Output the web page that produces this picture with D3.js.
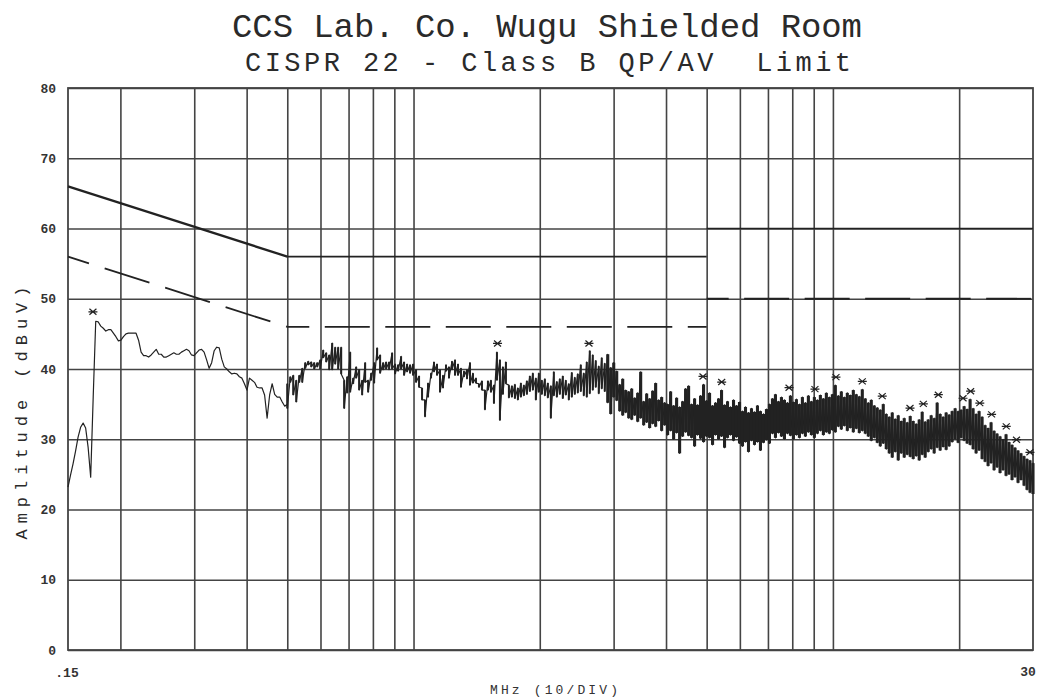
<!DOCTYPE html>
<html><head><meta charset="utf-8">
<script src="https://cdn.jsdelivr.net/npm/d3@7"></script>
<style>body{margin:0;background:#fff}svg{display:block}</style>
</head><body><svg id="c" width="1045" height="698"></svg>
<script>
// ---------- texts ----------
const titleText = "CCS Lab. Co. Wugu Shielded Room";
const subtitleText = "CISPR 22 - Class B QP/AV  Limit";
const yAxisLabel = "Amplitude (dBuV)";
const xAxisLabel = "MHz (10/DIV)";
const xStartLabel = ".15";
const xStopLabel = "30";

// ---------- axes ----------
const freqDomain = [0.15, 30];
const ampDomain = [0, 80];
const yTicks = [0, 10, 20, 30, 40, 50, 60, 70, 80];
const xGridFreqs = [0.2, 0.3, 0.4, 0.5, 0.6, 0.7, 0.8, 0.9, 1, 2, 3, 4, 5, 6, 7, 8, 9, 10, 20];

// ---------- limits (CISPR 22 class B) ----------
const qpSegFreq = [[0.15, 0.5], [0.5, 5], [5, 30]];
const qpSegAmp = [[66, 56], [56, 56], [60, 60]];
const avSegFreq = [[0.15, 0.5], [0.5, 5], [5, 30]];
const avSegAmp = [[56, 46], [46, 46], [50, 50]];

// ---------- sweep A : 0.15 - 0.5 MHz, 88 points (log spaced) ----------
const sweepAStart = 0.15, sweepAStop = 0.5;
const sweepAAmp = [23.2,24.9,26.5,28.3,30.3,31.7,32.3,31.6,28.8,24.6,
 36.0,46.8,46.7,46.1,45.8,45.4,45.6,45.6,45.1,44.6,
 44.0,44.1,44.6,45.0,45.1,45.1,45.1,45.1,44.1,42.4,
 41.9,41.9,41.7,42.0,42.4,42.8,42.1,42.1,41.7,41.7,
 41.9,42.1,42.3,42.1,42.1,42.4,42.6,42.8,42.6,42.0,
 41.9,42.3,42.7,42.8,42.4,41.3,40.1,40.9,42.6,43.1,
 43.0,41.4,40.3,40.0,39.6,39.3,39.4,39.3,38.9,38.7,
 37.9,37.0,38.7,38.4,38.1,37.4,37.3,37.3,36.3,33.0,
 36.3,37.9,36.4,36.0,36.0,35.3,34.7,35.0];

// ---------- sweep B : 0.5 - 30 MHz, 250 bins (log spaced), peak max / min ----------
const sweepBStart = 0.5, sweepBStop = 30;
const sweepBMax = [37.9,38.9,39.1,38.4,39.1,40.1,40.9,41.1,41.0,40.9,
 40.9,41.3,42.7,42.3,42.0,43.7,43.1,43.1,43.1,38.4,
 38.9,42.4,38.7,40.3,39.9,38.4,40.9,38.4,39.4,40.9,
 43.0,42.0,40.9,41.0,41.0,42.3,40.7,40.6,41.8,41.0,
 40.7,40.6,40.7,39.9,39.0,37.3,35.6,38.0,39.4,41.0,
 40.7,39.9,39.1,40.6,40.3,41.1,41.3,40.7,40.1,39.7,
 39.9,40.9,39.4,38.7,37.9,38.3,37.0,38.3,38.4,37.7,
 42.4,41.3,40.3,41.0,37.7,37.6,37.8,37.3,38.0,37.7,
 38.3,39.0,39.4,38.7,39.4,38.4,38.6,38.0,37.6,39.6,
 38.2,38.6,39.0,38.4,37.9,39.5,38.8,39.3,40.6,39.4,
 41.0,42.6,42.0,41.2,40.4,41.6,40.8,42.1,40.2,40.9,
 39.7,37.8,38.6,37.0,36.8,37.2,35.9,36.6,39.6,35.4,
 36.5,35.8,36.9,38.0,35.6,36.0,35.2,35.0,36.8,34.8,
 35.9,34.6,35.4,37.2,37.6,35.0,35.8,34.9,36.2,37.8,
 35.5,36.6,34.8,35.2,35.8,37.0,34.9,35.4,34.6,35.6,
 34.8,35.3,34.0,34.6,33.8,34.4,33.9,34.8,34.0,33.6,
 34.3,35.0,35.8,36.4,35.4,36.0,35.6,35.2,36.2,35.3,
 35.7,35.0,36.0,35.2,36.2,35.4,36.0,35.6,36.3,35.8,
 36.6,36.0,36.4,37.7,36.2,36.8,36.0,36.6,36.3,37.0,
 36.4,36.1,37.1,35.8,35.2,35.6,34.8,34.5,34.2,35.0,
 33.6,33.2,33.8,32.9,33.4,32.6,33.0,32.4,33.3,32.6,
 32.2,32.8,33.9,32.5,32.8,33.4,33.0,35.2,33.6,33.2,
 33.8,33.5,34.0,34.4,34.0,34.2,34.7,34.3,35.7,34.4,
 33.6,34.0,33.2,32.0,31.6,32.4,31.2,30.8,30.4,30.0,
 30.7,29.6,29.2,28.8,28.4,28.0,27.6,27.2,27.0,26.6];
const sweepBMin = [34.4,38.1,36.3,35.3,38.1,38.1,40.1,40.6,40.3,40.0,
 40.3,40.0,41.6,41.0,39.9,39.9,40.7,40.0,39.3,34.4,
 36.6,36.7,37.9,38.7,37.0,36.3,38.1,36.7,38.4,38.0,
 41.3,39.4,39.9,40.0,39.9,40.0,39.3,39.7,40.0,39.1,
 39.6,39.4,39.1,38.1,37.4,35.6,33.2,36.0,38.7,39.6,
 39.1,36.7,37.3,39.7,38.7,39.9,39.1,39.1,37.4,38.9,
 38.6,37.7,38.0,38.0,37.4,37.0,34.2,37.0,36.7,35.1,
 38.4,32.7,36.4,37.9,35.9,36.0,35.8,35.6,36.0,36.2,
 36.4,36.8,37.0,35.6,36.7,36.4,36.2,35.9,33.0,36.2,
 36.0,36.4,35.8,36.3,35.6,36.0,36.4,36.6,36.8,36.2,
 36.0,36.5,37.0,37.4,36.5,37.2,36.8,35.2,33.6,36.0,
 35.5,34.0,33.4,33.8,33.0,32.8,33.4,32.5,33.0,32.0,
 32.4,31.6,32.2,31.8,32.6,31.2,32.0,30.6,31.2,30.0,
 30.9,28.0,30.4,31.0,30.5,30.2,29.0,30.6,30.1,29.6,
 30.4,30.2,29.2,30.6,30.0,30.4,28.8,30.2,30.6,29.8,
 30.3,29.4,29.0,29.6,28.2,29.8,29.2,29.6,28.4,29.5,
 29.9,29.4,30.8,30.2,30.9,30.4,30.0,30.8,30.5,30.0,
 30.6,30.2,30.8,30.4,31.0,30.6,30.2,30.8,31.2,30.6,
 31.0,30.8,31.3,31.0,31.8,31.4,31.9,31.2,31.6,31.0,
 31.5,30.9,31.2,30.8,30.4,29.8,30.2,29.5,29.0,29.4,
 28.6,28.0,27.4,28.2,27.0,28.0,27.4,27.8,27.5,27.2,
 27.6,27.0,27.8,27.4,28.2,28.6,28.0,28.8,28.4,28.9,
 28.5,29.0,29.6,30.0,29.5,30.2,29.8,29.4,29.2,28.6,
 28.0,28.4,27.2,26.8,26.2,26.6,25.6,26.0,25.2,25.6,
 24.8,25.0,24.2,24.6,23.8,24.2,23.4,22.8,22.4,22.2];

// ---------- peak markers ----------
const markerFreq = [0.172,1.586,2.62,4.90,5.43,7.86,9.06,10.17,11.75,13.11,15.27,16.43,17.84,20.43,21.3,22.4,23.9,25.9,27.4,29.5];
const markerAmp = [47.0,42.5,42.5,37.8,37.0,36.2,36.0,37.7,37.1,35.0,33.3,33.9,35.2,34.7,35.7,34.0,32.4,30.7,28.8,27.0];

// ================= drawing =================
const W = 1045, H = 698;
const svg = d3.select("#c");
svg.append("rect").attr("width", W).attr("height", H).attr("fill", "#fff");

const x = d3.scaleLog().domain(freqDomain).range([68, 1033]);
const y = d3.scaleLinear().domain(ampDomain).range([650, 88]);
const plotW = x.range()[1] - x.range()[0];
const plotH = y.range()[0] - y.range()[1];
const FONT = "'Liberation Mono', 'DejaVu Sans Mono', monospace";
const INK = "#222";
const GRID = "#444";

// horizontal grid + y tick labels
const yAx = svg.append("g").attr("transform", `translate(${x.range()[0]},0)`)
  .call(d3.axisLeft(y).tickValues(yTicks).tickSize(-plotW).tickPadding(12).tickFormat(d3.format("d")));
yAx.select(".domain").remove();
yAx.selectAll(".tick line").attr("stroke", GRID).attr("stroke-width", 1.6);
yAx.selectAll(".tick text").attr("font-family", FONT).attr("font-size", 13)
  .attr("font-weight", "bold").attr("fill", "#333");

// vertical grid
const xAx = svg.append("g").attr("transform", `translate(0,${y.range()[0]})`)
  .call(d3.axisBottom(x).tickValues(xGridFreqs).tickSize(-plotH).tickFormat(""));
xAx.select(".domain").remove();
xAx.selectAll(".tick line").attr("stroke", GRID).attr("stroke-width", 1.6);

// frame
svg.append("rect").attr("x", x.range()[0]).attr("y", y.range()[1])
  .attr("width", plotW).attr("height", plotH)
  .attr("fill", "none").attr("stroke", GRID).attr("stroke-width", 1.8);

const line = d3.line().x(d => x(d[0])).y(d => y(d[1]));

// QP limit (solid)
qpSegFreq.forEach((fs, k) => {
  const pts = fs.map((f, i) => [f, qpSegAmp[k][i]]);
  const sloped = qpSegAmp[k][0] !== qpSegAmp[k][1];
  svg.append("path").datum(pts).attr("d", line).attr("fill", "none")
    .attr("stroke", INK).attr("stroke-width", sloped ? 2.3 : 1.6);
});

// AV limit (dashed, pattern restarts per segment)
avSegFreq.forEach((fs, k) => {
  const pts = fs.map((f, i) => [f, avSegAmp[k][i]]);
  const sloped = avSegAmp[k][0] !== avSegAmp[k][1];
  svg.append("path").datum(pts).attr("d", line).attr("fill", "none")
    .attr("stroke", INK).attr("stroke-width", 1.8)
    .attr("stroke-dasharray", sloped ? "47,16.5" : "45,15.5")
    .attr("stroke-dashoffset", sloped ? 25 : 23);
});

// sweep A
const fA = i => sweepAStart * Math.pow(sweepAStop / sweepAStart, i / (sweepAAmp.length - 1));
const ptsA = sweepAAmp.map((a, i) => [fA(i), a]);
// sweep B (peak max/min per bin)
const fB = j => sweepBStart * Math.pow(sweepBStop / sweepBStart, j / (sweepBMax.length - 1));
const ptsB = [];
sweepBMax.forEach((mx, j) => { ptsB.push([fB(j), mx]); ptsB.push([fB(j), sweepBMin[j]]); });

svg.append("path").datum(ptsA.concat(ptsB)).attr("d", line)
  .attr("fill", "none").attr("stroke", INK).attr("stroke-width", 1.2)
  .attr("stroke-linejoin", "round");

// per-bin vertical peak bars (display columns touch above 3 MHz where trace is dense)
svg.append("g").selectAll("line").data(sweepBMax).join("line")
  .attr("x1", (d, j) => x(fB(j))).attr("x2", (d, j) => x(fB(j)))
  .attr("y1", d => y(d)).attr("y2", (d, j) => y(sweepBMin[j]))
  .attr("stroke", INK).attr("stroke-width", (d, j) => fB(j) >= 2.9 ? 3.1 : 2.0);

// markers
const star = "M-4.5,0H4.5M-3.5,-3L3.5,3M-3.5,3L3.5,-3";
svg.append("g").selectAll("path").data(markerFreq).join("path")
  .attr("d", star)
  .attr("transform", (f, i) => `translate(${x(f)},${y(markerAmp[i]) - 8})`)
  .attr("fill", "none").attr("stroke", INK).attr("stroke-width", 1.2);

// titles
svg.append("text").attr("x", 232).attr("y", 37).text(titleText)
  .attr("font-family", FONT).attr("font-size", 34).attr("fill", "#2a2a2a")
  .attr("textLength", 630).attr("lengthAdjust", "spacing");
svg.append("text").attr("x", 245).attr("y", 71).text(subtitleText)
  .attr("font-family", FONT).attr("font-size", 27).attr("fill", "#2a2a2a")
  .attr("textLength", 606).attr("lengthAdjust", "spacing")
  .style("white-space", "pre");

// y axis label
svg.append("text").attr("transform", "translate(27,413) rotate(-90)")
  .attr("text-anchor", "middle").text(yAxisLabel)
  .attr("font-family", FONT).attr("font-size", 17).attr("fill", "#2a2a2a")
  .attr("textLength", 253).attr("lengthAdjust", "spacing");

// x labels
svg.append("text").attr("x", 67).attr("y", 677).attr("text-anchor", "middle").text(xStartLabel)
  .attr("font-family", FONT).attr("font-size", 13).attr("font-weight", "bold").attr("fill", "#333");
svg.append("text").attr("x", 1028).attr("y", 676).attr("text-anchor", "middle").text(xStopLabel)
  .attr("font-family", FONT).attr("font-size", 13).attr("font-weight", "bold").attr("fill", "#333");
svg.append("text").attr("x", 490).attr("y", 694).text(xAxisLabel)
  .attr("font-family", FONT).attr("font-size", 13).attr("fill", "#333")
  .attr("textLength", 128).attr("lengthAdjust", "spacing");
</script></body></html>
